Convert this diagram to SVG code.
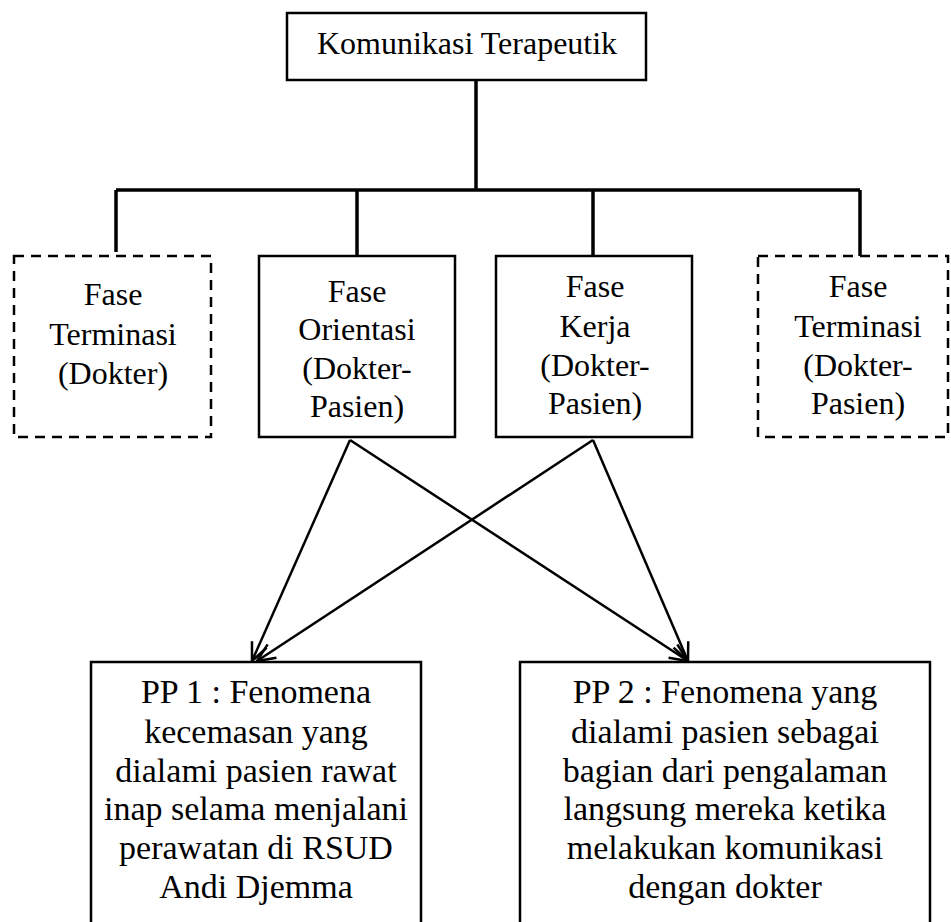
<svg xmlns="http://www.w3.org/2000/svg" width="951" height="922" viewBox="0 0 951 922">
<style>
.box{fill:#fff;stroke:#000;stroke-width:2.5}
.dash{fill:#fff;stroke:#000;stroke-width:2.5;stroke-dasharray:10 7}
.t{font-family:"Liberation Serif","Times New Roman",serif;font-size:32px;fill:#000;text-anchor:middle}
.b{font-family:"Liberation Serif","Times New Roman",serif;font-size:34px;fill:#000;text-anchor:middle}
.tree{stroke:#000;stroke-width:3.5;fill:none}
.arr{stroke:#000;stroke-width:2.5;fill:none;marker-end:url(#ah)}
</style>
<defs>
<marker id="ah" markerUnits="userSpaceOnUse" viewBox="-20 -10 22 20" refX="0" refY="0" markerWidth="22" markerHeight="20" orient="auto">
<path d="M-18,-8 L0,0 L-18,8" fill="none" stroke="#000" stroke-width="2.5"/>
</marker>
</defs>
<g id="connectors">
<path class="tree" d="M476,80 V190 M116,190 H860 M116,190 V252 M357,190 V256 M593,190 V269 M860,190 V256"/>
<line class="arr" x1="350" y1="440" x2="252" y2="661"/>
<line class="arr" x1="350" y1="440" x2="688" y2="661"/>
<line class="arr" x1="593" y1="440" x2="257" y2="661"/>
<line class="arr" x1="593" y1="440" x2="688" y2="661"/>
</g>
<g id="top">
<rect class="box" x="287" y="13" width="359" height="67"/>
<text class="t" x="467" y="54">Komunikasi Terapeutik</text>
</g>
<g id="terminasi-dokter">
<rect class="dash" x="14" y="256" width="197" height="181"/>
<text class="t" x="113" y="305">Fase</text>
<text class="t" x="113" y="345">Terminasi</text>
<text class="t" x="113" y="384">(Dokter)</text>
</g>
<g id="orientasi">
<rect class="box" x="259" y="256" width="196" height="181"/>
<text class="t" x="357" y="302">Fase</text>
<text class="t" x="357" y="340">Orientasi</text>
<text class="t" x="357" y="379">(Dokter-</text>
<text class="t" x="357" y="417">Pasien)</text>
</g>
<g id="kerja">
<rect class="box" x="496" y="256" width="196" height="181"/>
<text class="t" x="595" y="297">Fase</text>
<text class="t" x="595" y="337">Kerja</text>
<text class="t" x="595" y="376">(Dokter-</text>
<text class="t" x="595" y="414">Pasien)</text>
</g>
<g id="terminasi-dokter-pasien">
<rect class="dash" x="758" y="256" width="190" height="181"/>
<text class="t" x="858" y="297">Fase</text>
<text class="t" x="858" y="337">Terminasi</text>
<text class="t" x="858" y="376">(Dokter-</text>
<text class="t" x="858" y="414">Pasien)</text>
</g>
<g id="pp1">
<rect class="box" x="91" y="662" width="330" height="270"/>
<text class="b" x="256" y="703">PP 1 : Fenomena</text>
<text class="b" x="256" y="743">kecemasan yang</text>
<text class="b" x="256" y="782">dialami pasien rawat</text>
<text class="b" x="256" y="820">inap selama menjalani</text>
<text class="b" x="256" y="859">perawatan di RSUD</text>
<text class="b" x="256" y="898">Andi Djemma</text>
</g>
<g id="pp2">
<rect class="box" x="520" y="662" width="410" height="270"/>
<text class="b" x="725" y="703">PP 2 : Fenomena yang</text>
<text class="b" x="725" y="743">dialami pasien sebagai</text>
<text class="b" x="725" y="782">bagian dari pengalaman</text>
<text class="b" x="725" y="820">langsung mereka ketika</text>
<text class="b" x="725" y="859">melakukan komunikasi</text>
<text class="b" x="725" y="898">dengan dokter</text>
</g>
</svg>
